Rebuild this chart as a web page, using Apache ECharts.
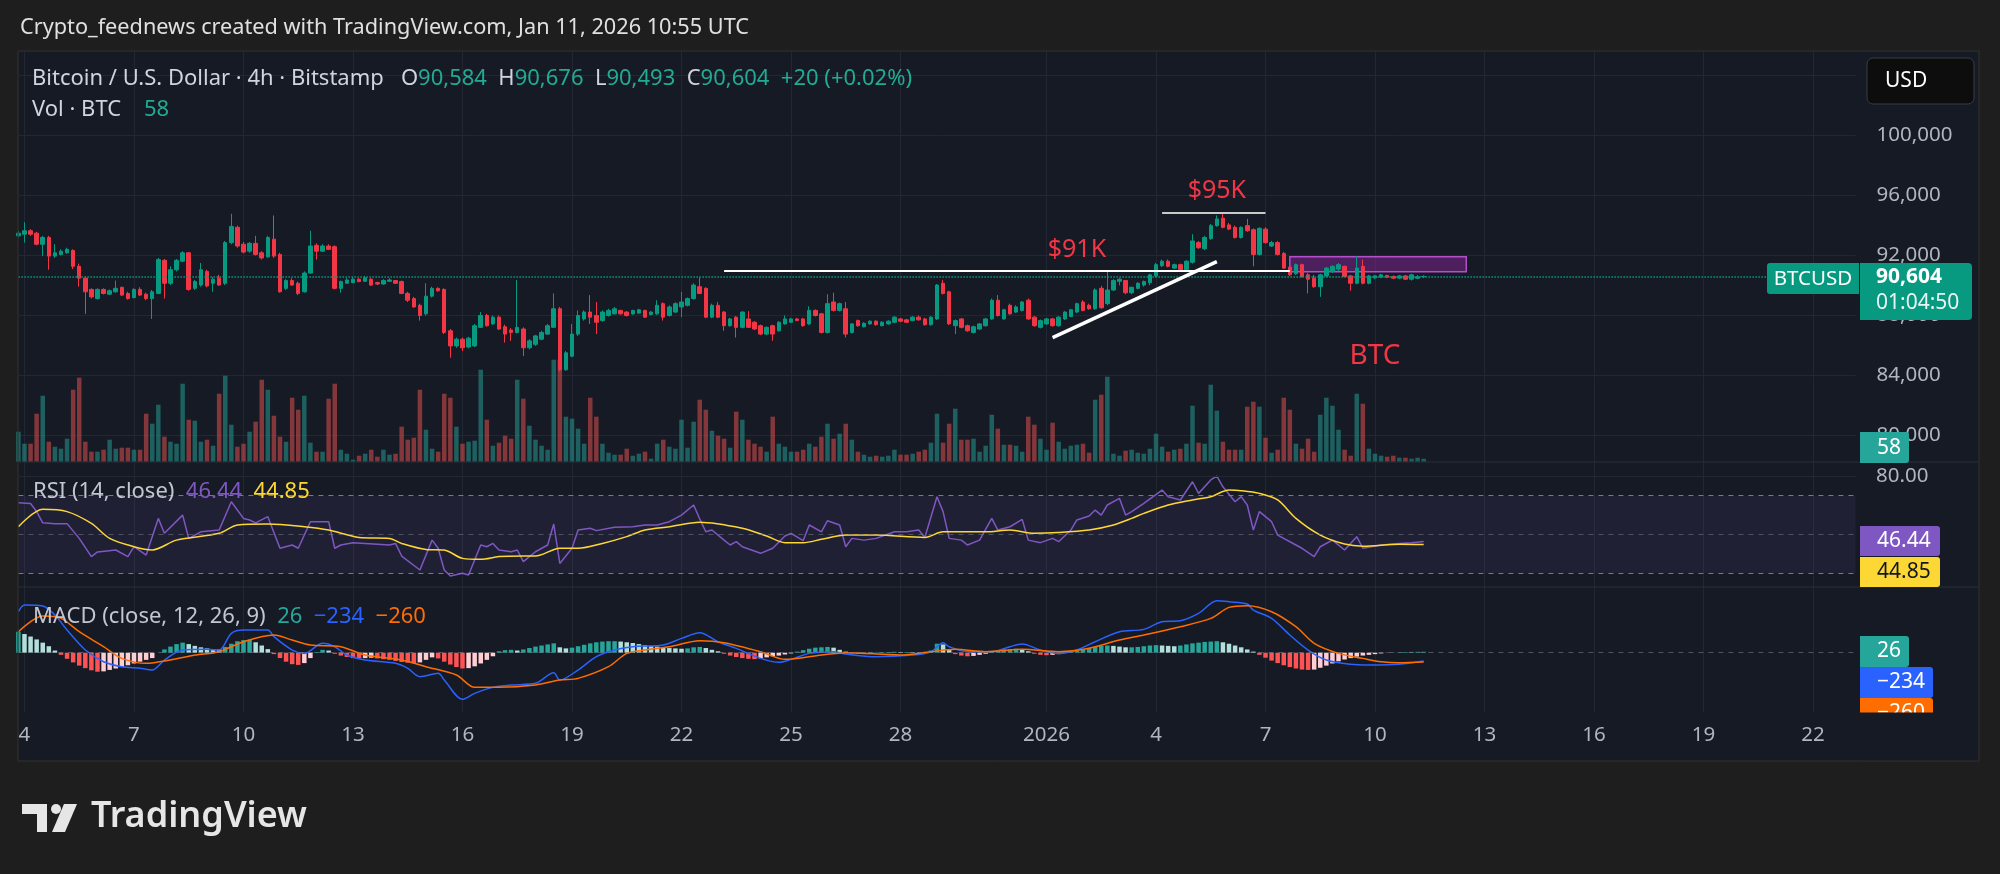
<!DOCTYPE html>
<html><head><meta charset="utf-8">
<script src="https://cdn.jsdelivr.net/npm/echarts@6/dist/echarts.min.js"></script>
<style>html,body{margin:0;padding:0;background:#1e1e1e;}#c{width:2000px;height:874px;}</style>
</head><body><div id="c"></div>
<script>
// ---------- time axis ----------
const START_UTC = Date.UTC(2025, 11, 3, 20);   // first 4h slot shown
const STEP_MS = 4 * 3600 * 1000;
const SLOT_COUNT = 303;
function fmtSlot(d){const p=n=>String(n).padStart(2,'0');return d.getUTCFullYear()+'-'+p(d.getUTCMonth()+1)+'-'+p(d.getUTCDate())+' '+p(d.getUTCHours())+':00';}
const categories = [];
for (let i = 0; i < SLOT_COUNT; i++) categories.push(fmtSlot(new Date(START_UTC + i * STEP_MS)));

const tickDates  = ['2025-12-04','2025-12-07','2025-12-10','2025-12-13','2025-12-16','2025-12-19','2025-12-22','2025-12-25','2025-12-28','2026-01-01','2026-01-04','2026-01-07','2026-01-10','2026-01-13','2026-01-16','2026-01-19','2026-01-22'];
const tickLabels = ['4','7','10','13','16','19','22','25','28','2026','4','7','10','13','16','19','22'];
const priceTicks = [80000, 84000, 88000, 92000, 96000, 100000, 104000];

// ---------- BTC/USD 4h candles [open, close, low, high], from 2025-12-03 20:00 ----------
const ohlc = [
[93310,93490,93200,93650],[93420,93650,92860,94220],[93650,93420,93310,93760],[93490,92750,92680,93580],[92750,93200,91960,93310],
[93200,91960,91050,93310],[91960,92180,91840,92750],[92070,92290,92000,92410],[92180,92410,92110,92520],[92340,91280,91100,92410],
[91280,90490,89920,91460],[90490,89580,88110,90600],[89740,89240,89130,89810],[89130,89740,89060,89810],[89740,89470,89400,89810],
[89420,89650,89360,89740],[89580,89810,89520,90330],[89880,89360,89290,89920],[89470,89130,89060,89580],[89200,89740,89130,89810],
[89740,89360,89290,89880],[89420,89130,89020,89520],[89130,89580,87770,89700],[89470,91730,89420,91840],[91680,90150,89130,91770],
[90150,91050,90030,91280],[91050,91680,90940,91770],[91620,92180,91550,92290],[92180,89740,89650,92230],[89810,90260,89700,90370],
[90030,91050,89920,91500],[90940,89970,89880,91050],[90150,90420,89580,90550],[90490,90030,89970,90710],[90150,92860,90030,92970],
[92860,93940,92750,94780],[93880,92630,92520,93990],[92750,92230,92140,92900],[92290,92810,92180,92900],[92810,92070,92000,93310],
[92180,91840,91730,92290],[91910,93200,91840,93310],[93090,91960,91840,94670],[92070,89580,89520,92180],[89810,90330,89700,90420],
[90330,90030,89970,90490],[90150,89470,89360,90260],[89580,90830,89520,90940],[90830,92630,90780,93650],[92680,92290,91730,92810],
[92290,92630,92230,92750],[92630,92410,92360,92750],[92590,89810,89740,92680],[89810,90260,89520,90330],[90150,90370,90100,90490],
[90190,90420,90150,90550],[90420,90260,90220,90490],[90280,90510,90240,90640],[90420,90030,89970,90490],[90190,90100,90030,90260],
[90100,90330,90060,90420],[90280,90370,90240,90490],[90330,90150,90100,90370],[90260,89470,89420,90330],[89470,89020,88900,89580],
[89130,88570,88520,89240],[88680,88000,87660,88790],[88110,89290,88000,90150],[89290,89810,89200,89920],[89810,89650,89580,89880],
[89740,86870,86760,89810],[86980,85970,85180,87100],[85970,86420,85850,86530],[86420,85850,85630,86530],[85900,86490,85810,86580],
[85970,87320,85900,87440],[87210,88000,87160,88230],[88000,87320,87250,88110],[87440,87890,87390,88000],[87890,87100,87030,88000],
[87250,86760,86190,87390],[87030,86870,86310,87160],[86870,87210,86800,90370],[87100,85850,85290,87210],[85850,86310,85740,86420],
[86080,86640,85970,86710],[86420,86870,86350,86980],[86760,87320,86710,87440],[87210,88450,87160,89470],[88450,84380,84270,88570],
[84380,85510,84320,85630],[85290,86760,85220,87440],[86760,88000,86640,88340],[87770,88230,87660,88340],[88230,87890,87440,89360],
[88000,87550,86760,88900],[87660,88230,87590,88340],[88000,88340,87930,88450],[88110,88450,88070,88570],[88340,88110,88050,88380],
[88230,88000,87930,88290],[88110,88340,88050,88380],[88160,88380,88110,88450],[88340,87890,87840,88380],[88070,88230,88000,88290],
[88110,88680,88050,89020],[88790,87890,87660,88880],[88000,88570,87930,88680],[88230,88790,88160,88880],[88570,88900,87890,89580],
[88680,89130,88610,89200],[89130,90030,89060,90150],[89920,89470,89420,90550],[89810,87890,87820,89880],[87890,88680,87820,88790],
[88680,87890,87820,88900],[88230,87320,86980,88290],[87320,87770,87250,87840],[87890,87210,86530,87960],[87210,88230,87140,88290],
[87770,87210,87160,88290],[87550,87100,87030,87620],[87320,86760,86690,87390],[86760,87210,86690,87280],[87320,86760,86310,87390],
[86980,87550,86920,87620],[87440,87770,87390,88000],[87550,87770,87500,87840],[87770,87660,87620,87840],[87770,87320,87250,87840],
[87440,88340,87370,88610],[88340,88000,87930,88410],[88110,86870,86800,88180],[86870,88790,86800,89420],[88900,88340,88270,89520],
[88340,88790,88270,88860],[88450,86760,86530,88900],[86870,87440,86800,87500],[87660,87320,87250,87730],[87250,87480,87210,87550],
[87440,87620,87390,87680],[87620,87390,87320,87680],[87320,87550,87280,87620],[87440,87620,87390,87680],[87550,87890,87480,87960],
[87770,87620,87550,87840],[87710,87550,87500,87770],[87660,87890,87620,87960],[87890,87710,87660,88000],[87770,87390,87320,87840],
[87390,87890,87320,87960],[87770,90030,87710,90100],[90150,89470,89400,90370],[89580,87440,87370,89650],[87320,87660,86760,87730],
[87770,87210,87140,87840],[87320,86980,86920,87390],[86870,87250,86800,87320],[87100,87440,87030,87500],[87320,87770,87250,87840],
[87770,89020,87710,89130],[89020,88000,87930,89360],[87770,88380,87710,88450],[88680,88110,88050,88790],[88230,88570,88160,88680],
[88340,88900,88270,88970],[89020,87770,87710,89130],[87890,87320,87250,87960],[87210,87660,87140,87730],[87440,87770,87370,87840],
[87770,87320,87250,87840],[87320,87890,87250,87960],[87770,88230,87710,88290],[87930,88380,87890,88450],[88230,88790,88160,88860],
[88900,88340,88270,89020],[88680,88450,88380,88790],[88450,89700,88380,89810],[89810,88520,88450,89970],[88790,89700,88680,90940],
[89700,90330,89630,90420],[90280,90420,90010,90490],[90330,89520,89420,90370],[89520,89880,89420,89920],[89810,90150,89740,90220],
[90030,90260,89920,90330],[90190,90710,90030,90780],[90640,91390,90550,91500],[91320,91620,91230,91730],[91620,91280,91210,91730],
[91160,91390,91100,91460],[91390,91050,90980,91460],[91050,91620,90980,91680],[91550,92970,91460,93420],[92860,92520,92450,92970],
[92450,93200,92360,93310],[93130,93990,93040,94100],[93990,94440,93920,94670],[94490,93880,93810,94780],[94040,93760,93690,94170],
[93880,93200,93130,93990],[93200,93880,93130,93940],[93990,93650,93580,94440],[93720,92070,91280,93810],[92070,93810,92000,93880],
[93760,92860,92790,93880],[92630,92860,92560,92970],[92860,92070,92000,92970],[92140,91160,91100,92230],[91230,90710,90640,91320],
[90780,91390,90710,91460],[91390,90600,90530,91460],[90710,90420,89470,90830],[90490,89920,89850,90710],[89920,90710,89240,90780],
[90640,91160,90550,91230],[90940,91280,90830,91340],[91100,91390,90940,91500],[91280,90600,90550,91320],[90640,90150,89650,90710],
[90150,91160,90080,91960],[91280,90150,90080,91730],[90150,90640,90080,90710],[90510,90640,90420,90710],[90550,90710,90490,90780],
[90670,90550,90490,90710],[90600,90490,90420,90670],[90490,90640,90420,90710],[90640,90420,90370,90710],[90420,90710,90330,90780],
[90480,90584,90420,90700],[90584,90604,90493,90676]
];

// ---------- volume (BTC), same slots ----------
const volume = [
600,360,360,960,1320,400,300,260,460,1440,1680,
400,200,200,240,440,260,280,280,240,240,
960,760,1140,500,400,360,1560,840,820,400,
440,320,1360,1720,740,300,360,600,800,1640,
1440,920,500,400,1280,1040,1320,380,200,200,
1260,1560,240,160,40,120,160,240,100,240,
140,160,700,440,480,1440,640,260,200,1360,
1280,700,360,400,420,1840,840,320,380,520,
460,1640,1260,720,440,320,240,2040,2040,900,
860,660,360,1280,900,360,180,140,140,260,
120,160,200,60,360,440,300,260,840,280,
800,1240,1040,620,520,460,280,1000,840,440,
360,300,200,900,360,300,200,200,240,360,
300,500,760,460,560,760,440,200,140,100,
120,100,120,240,140,140,160,200,240,380,
960,380,760,1060,440,440,460,200,320,940,
660,340,340,320,200,900,740,460,240,780,
400,260,320,340,360,180,1240,1340,1700,160,
120,220,240,180,160,260,560,300,200,240,
260,360,1120,380,360,1540,1020,400,240,240,
240,1100,1200,1100,480,180,240,1280,1040,360,
260,460,200,940,1280,1120,640,240,120,1360,
1160,260,160,120,100,120,80,80,60,80,
58
];

// ---------- RSI(14) read points [candle index from 2025-12-04 00:00, value] ----------
const rsiPoints = [[-1,66.4],[1,66],[2,61.8],[3,56],[5,55.6],[7,55.6],[9,48],[11,38.6],[12,41],[15,42],[17,38.6],[18,43.7],[20,39.4],[22,58.3],[23,50.6],[26,60],[27,48],[29,51.4],[32,52.3],[34,66.9],[36,58.3],[37,57.5],[38,56],[40,59.2],[42,42.9],[44,44.6],[45,42.9],[47,56.6],[50,56.6],[51,42.9],[52,44.6],[54,45.8],[56,45.4],[60,44.6],[61,45.4],[62,38.9],[65,31.7],[67,47.1],[68,42.9],[69,31.7],[70,28.6],[72,30],[73,29.1],[75,44.6],[76,43.7],[77,45.4],[78,42],[80,41.1],[81,42],[82,36],[84,41.1],[86,44.6],[87,55.4],[88,35.1],[90,42.9],[91,52.3],[93,53.2],[94,52],[97,53.7],[100,54],[102,54.9],[104,54.9],[106,56.6],[108,60],[110,65.2],[111,58],[112,51.4],[113,52.3],[115,47.1],[116,44.6],[117,46.3],[118,43.7],[121,40.3],[123,42.9],[125,49.2],[126,50.6],[128,46.8],[129,54.9],[131,51.4],[132,57.1],[134,54.9],[135,43.7],[136,48],[138,47.1],[140,48],[143,51.4],[145,51.4],[147,52.3],[148,48.5],[150,69.5],[151,61.8],[152,48],[154,47.1],[155,44.6],[157,47.1],[159,58.3],[160,52.3],[162,54],[164,57.8],[165,47.1],[167,45.8],[169,48],[170,46.3],[172,52.3],[173,57.5],[175,59.5],[176,62.6],[177,60],[178,65.2],[180,68.6],[181,60],[182,61.8],[184,66],[187,72.9],[188,69.5],[190,67.8],[192,77.2],[193,71.2],[195,78.1],[196,80.1],[197,74.6],[199,66.9],[200,69.5],[201,65.2],[202,52.3],[203,61.8],[205,56.6],[206,49.7],[209,44.6],[210,42.9],[212,38.6],[213,43.7],[215,47.1],[217,42],[219,48.9],[220,42.9],[223,44.6],[226,45.4],[228,45.8],[230,46.44]];
const rsiMaPoints = [[-1,54],[3,63],[7,61.8],[11,55.7],[14,48],[18,43.7],[21,42],[25,47.1],[32,50.6],[35,54.9],[40,55.4],[46,54],[50,52.3],[55,48.5],[60,48],[62,45.4],[66,42.3],[69,42],[72,37.7],[75,37.2],[78,38.6],[82,38.9],[84,38.9],[88,42.9],[91,42.9],[95,45.4],[99,48.9],[102,52.3],[106,54],[111,56.3],[118,53.2],[122,49.2],[125,45.8],[128,45.8],[131,47.5],[135,49.7],[140,49.7],[148,48.5],[151,51.4],[158,51.4],[162,52.3],[166,50.6],[170,51],[175,52.3],[179,54.9],[182,58.3],[184,60.9],[188,65.2],[192,67.8],[195,69.5],[198,72.9],[200,72.6],[203,71.2],[206,67.8],[209,58.3],[213,49.7],[217,45.1],[220,44],[226,45],[230,44.85]];

// ---------- MACD(12,26,9) read points ----------
const macdPoints = [[-1,1142],[0,1328],[3,1300],[5,1049],[7,631],[10,74],[13,-251],[16,-390],[19,-436],[21,-483],[23,-204],[26,74],[30,93],[32,74],[34,539],[36,631],[40,631],[41,446],[44,74],[46,-19],[49,260],[51,167],[53,-65],[56,-204],[61,-297],[63,-436],[65,-669],[68,-576],[69,-761],[72,-1300],[74,-1133],[77,-966],[80,-901],[84,-854],[87,-557],[88,-761],[91,-483],[94,-111],[97,74],[100,167],[105,214],[108,399],[111,557],[114,306],[117,121],[121,-158],[124,-269],[126,-186],[129,-19],[133,28],[135,-37],[140,-111],[146,-65],[149,28],[151,279],[152,167],[155,28],[159,28],[162,167],[164,241],[167,74],[170,-19],[173,74],[176,306],[180,585],[184,650],[187,864],[190,891],[193,1096],[196,1448],[198,1420],[201,1356],[202,1188],[205,956],[208,492],[211,74],[214,-204],[218,-325],[221,-344],[226,-325],[230,-234]];
const signalPoints = [[-1,585],[3,1021],[6,956],[9,585],[13,167],[16,-158],[20,-297],[24,-204],[28,-65],[32,28],[36,306],[41,492],[44,353],[47,214],[52,167],[56,-65],[62,-204],[66,-390],[71,-622],[74,-966],[78,-966],[84,-901],[88,-761],[91,-715],[96,-390],[99,-19],[102,74],[106,167],[111,334],[115,279],[121,28],[125,-186],[131,-65],[135,0],[144,-65],[149,28],[153,93],[158,28],[164,93],[170,28],[175,121],[180,353],[184,492],[190,724],[195,956],[198,1263],[201,1309],[205,1142],[209,724],[212,260],[216,-19],[220,-158],[223,-251],[226,-279],[230,-260]];
const histogram = [
585,520,450,370,280,180,
60,-60,-170,-270,-360,-430,-490,-530,
-520,-480,-440,-400,-350,-300,-250,-200,-150,
0,90,170,240,280,
240,190,150,120,100,90,
160,250,320,350,360,
290,200,100,
-40,-150,-250,-320,-340,-290,
-150,20,80,60,
-30,-80,-120,-150,-160,-150,-140,-160,-180,-200,-230,-260,-280,-300,-270,-200,-130,-160,
-250,-330,-400,-440,-430,-380,-300,-200,-100,
40,70,80,60,
90,130,170,200,230,260,
150,120,140,180,
220,260,290,310,320,320,310,290,270,
240,210,190,170,150,130,120,110,
120,150,
160,130,80,40,
-30,-80,-120,-150,-170,-180,-160,-130,-100,-80,-50,-20,
30,70,110,140,150,160,140,80,30,
-20,-30,-25,-20,10,15,20,25,20,20,15,10,5,
60,250,230,100,
-40,-80,-100,-90,-60,-30,
40,70,90,100,110,90,40,
-30,-60,-70,-60,-40,-10,
30,60,100,130,160,190,200,190,170,150,150,160,180,200,210,200,190,180,200,230,260,280,300,310,320,290,250,200,150,90,30,
-60,-140,-220,-290,-350,-400,-440,-470,-480,-470,-420,-360,-300,-240,-190,-150,-110,-80,-60,-40,
-20,-5,5,12,18,22,24,26
];

// ---------- drawn annotations (time slot, price) ----------
const lastPrice = 90604;
const level91k = {from:'2025-12-23 04:00', to:'2026-01-07 16:00', price:91000};
const level95k = {from:'2026-01-04 04:00', to:'2026-01-07 00:00', price:94880};
const trendLine = {from:['2026-01-01 04:00',86520], to:['2026-01-05 16:00',91590]};
const zoneBox = {from:'2026-01-07 16:00', to:'2026-01-12 12:00', low:90920, high:91920};
const textNotes = [{t:'$91K',slot:'2026-01-01 20:00',price:92367},{t:'$95K',slot:'2026-01-05 16:00',price:96300},{t:'BTC',slot:'2026-01-10 00:00',price:85300}];

// ---------- build ----------
const UP='#089981', DOWN='#f23645';
const FONT = "'Noto Sans', Roboto, sans-serif";
const tickMap = {}; tickDates.forEach((d,i)=>{tickMap[d+' 00:00']=tickLabels[i];});
function sparse(pts){const a=new Array(SLOT_COUNT).fill('-');pts.forEach(([k,v])=>{a[k+1]=v;});return a;}
const volData = volume.map((v,i)=>({value:v,itemStyle:{color: ohlc[i][1]>=ohlc[i][0]?'rgba(38,166,154,0.5)':'rgba(239,83,80,0.5)'}}));
const histData = histogram.map((v,i)=>{const p=i>0?histogram[i-1]:v;let c;if(v>=0)c=v>=p?'#26a69a':'#b2dfdb';else c=v<p?'#ff5252':'#ffcdd2';return {value:v,itemStyle:{color:c}};});

const L = 18.4, R = 144.4;
const hidX = (gi)=>({type:'category',gridIndex:gi,data:categories,boundaryGap:false,axisLine:{show:false},axisTick:{show:false},axisLabel:{show:false},splitLine:{show:false}});
const hidY = (gi,min,max,extra)=>Object.assign({type:'value',gridIndex:gi,min,max,axisLine:{show:false},axisTick:{show:false},axisLabel:{show:false},splitLine:{show:false}},extra||{});

const chart = echarts.init(document.getElementById('c'), null, {renderer:'canvas'});
const panelBg = '#161a25', lineC = '#2a2e39';
const F = (s,w)=>(w?w+' ':'')+s+'px '+FONT;
const option = {
  backgroundColor:'#1e1e1e',
  animation:false,
  grid:[
    {left:L,right:R,top:51,bottom:162},          // 0: background / time scale
    {left:L,right:R,top:75.5,height:360},        // 1: price
    {left:L,right:R,top:341.7,height:120},       // 2: volume
    {left:L,right:R,top:462,height:125},         // 3: RSI
    {left:L,right:R,top:587,height:125}          // 4: MACD
  ],
  xAxis:[
    {type:'category',gridIndex:0,data:categories,boundaryGap:false,axisLine:{show:false},axisTick:{show:false},
     axisLabel:{interval:(i,v)=>!!tickMap[v],formatter:v=>tickMap[v]||'',color:'#b2b5be',fontSize:20.5,fontFamily:FONT,margin:13,showMinLabel:true,showMaxLabel:true,hideOverlap:false},
     splitLine:{show:true,interval:(i,v)=>!!tickMap[v],lineStyle:{color:'#232733',width:1}}},
    hidX(1),hidX(2),hidX(3),hidX(4)
  ],
  yAxis:[
    hidY(0,0,1),
    {type:'value',gridIndex:1,position:'right',min:priceTicks[0],max:priceTicks[priceTicks.length-1],interval:4000,
     axisLine:{show:false},axisTick:{show:false},
     axisLabel:{color:'#b2b5be',fontSize:20.5,fontFamily:FONT,margin:21,showMaxLabel:false,formatter:v=>v.toLocaleString('en-US')},
     splitLine:{show:true,lineStyle:{color:'#232733',width:1}}},
    hidY(2,0,2400),
    hidY(3,22.94,87.37),
    hidY(4,-1652,1830)
  ],
  series:[
    {type:'line',xAxisIndex:0,yAxisIndex:0,data:[],silent:true},
    {type:'bar',name:'vol',xAxisIndex:2,yAxisIndex:2,data:volData,barWidth:4.5,silent:true,z:1},
    {type:'candlestick',xAxisIndex:1,yAxisIndex:1,data:ohlc,barWidth:4,clip:false,silent:true,z:3,
     itemStyle:{color:UP,color0:DOWN,borderColor:UP,borderColor0:DOWN,borderWidth:1},
     markLine:{silent:true,symbol:['none','none'],label:{show:false},animation:false,data:[
       [{coord:[categories[0],lastPrice],lineStyle:{color:UP,type:'dotted',width:1.5}},{coord:[categories[SLOT_COUNT-1],lastPrice]}],
       [{coord:[level91k.from,level91k.price],lineStyle:{color:'#ffffff',type:'solid',width:2}},{coord:[level91k.to,level91k.price]}],
       [{coord:[level95k.from,level95k.price],lineStyle:{color:'#c9c9c9',type:'solid',width:2}},{coord:[level95k.to,level95k.price]}],
       [{coord:trendLine.from,lineStyle:{color:'#ffffff',type:'solid',width:3.5}},{coord:trendLine.to}]
     ]},
     markArea:{silent:true,data:[[{coord:[zoneBox.from,zoneBox.high],itemStyle:{color:'rgba(156,39,176,0.42)',borderColor:'#b24fc9',borderWidth:1.5}},{coord:[zoneBox.to,zoneBox.low]}]]},
     markPoint:{silent:true,symbol:'rect',symbolSize:[1,1],itemStyle:{color:'rgba(0,0,0,0)'},
       data:textNotes.map(n=>({name:n.t,coord:[n.slot,n.price],label:{show:true,position:'inside',formatter:n.t,color:DOWN,fontSize:n.t==='BTC'?28:25,fontFamily:FONT}}))}
    },
    {type:'line',name:'RSI',xAxisIndex:3,yAxisIndex:3,data:sparse(rsiPoints),connectNulls:true,symbol:'none',lineStyle:{color:'#7e57c2',width:1.5},silent:true,z:3,
     markArea:{silent:true,data:[[{yAxis:70,itemStyle:{color:'rgba(126,87,194,0.1)'}},{yAxis:30}]]},
     markLine:{silent:true,symbol:['none','none'],label:{show:false},data:[
       {yAxis:80,lineStyle:{color:'#232733',type:'solid',width:1}},
       {yAxis:70,lineStyle:{color:'#787b86',type:[5,5],width:1}},
       {yAxis:50,lineStyle:{color:'rgba(120,123,134,0.55)',type:[5,5],width:1}},
       {yAxis:30,lineStyle:{color:'#787b86',type:[5,5],width:1}}]}},
    {type:'line',name:'RSI MA',xAxisIndex:3,yAxisIndex:3,data:sparse(rsiMaPoints),connectNulls:true,smooth:0.3,symbol:'none',lineStyle:{color:'#fdd835',width:1.5},silent:true,z:4},
    {type:'bar',name:'hist',xAxisIndex:4,yAxisIndex:4,data:histData,barWidth:4.5,silent:true,z:2,
     markLine:{silent:true,symbol:['none','none'],label:{show:false},data:[{yAxis:0,lineStyle:{color:'rgba(120,123,134,0.6)',type:[5,5],width:1}}]}},
    {type:'line',name:'MACD',xAxisIndex:4,yAxisIndex:4,data:sparse(macdPoints),connectNulls:true,smooth:0.3,symbol:'none',lineStyle:{color:'#2962ff',width:1.5},silent:true,z:3},
    {type:'line',name:'Signal',xAxisIndex:4,yAxisIndex:4,data:sparse(signalPoints),connectNulls:true,smooth:0.3,symbol:'none',lineStyle:{color:'#ff6d00',width:1.5},silent:true,z:4}
  ],
  graphic:[
    {type:'rect',z:-5,shape:{x:18,y:51,width:1961,height:710},style:{fill:panelBg,stroke:'#2b2b2b',lineWidth:1}},
    {type:'text',z:100,style:{x:20,y:28,text:'Crypto_feednews created with TradingView.com, Jan 11, 2026 10:55 UTC',fill:'#e0e0e0',font:F(21.7),verticalAlign:'middle'}},
    {type:'text',z:100,style:{x:32,y:79,verticalAlign:'middle',
      text:'{a|Bitcoin / U.S. Dollar · 4h · Bitstamp   }{a|O}{v|90,584}{a|  H}{v|90,676}{a|  L}{v|90,493}{a|  C}{v|90,604}{v|  +20 (+0.02%)}',
      rich:{a:{fill:'#d1d4dc',font:F(22)},v:{fill:'#22ab94',font:F(22)}}}},
    {type:'text',z:100,style:{x:32,y:110,verticalAlign:'middle',text:'{a|Vol · BTC    }{v|58}',rich:{a:{fill:'#d1d4dc',font:F(22)},v:{fill:'#22ab94',font:F(22)}}}},
    {type:'text',z:100,style:{x:33,y:492,verticalAlign:'middle',text:'{a|RSI (14, close)  }{p|46.44  }{y|44.85}',rich:{a:{fill:'#c3c6ce',font:F(22)},p:{fill:'#7e57c2',font:F(22)},y:{fill:'#fdd835',font:F(22)}}}},
    {type:'text',z:100,style:{x:33,y:617,verticalAlign:'middle',text:'{a|MACD (close, 12, 26, 9)  }{g|26  }{b|−234  }{o|−260}',rich:{a:{fill:'#c3c6ce',font:F(22)},g:{fill:'#26a69a',font:F(22)},b:{fill:'#2962ff',font:F(22)},o:{fill:'#ff6d00',font:F(22)}}}},
    {type:'line',z:90,shape:{x1:18,y1:462,x2:1979,y2:462},style:{stroke:lineC,lineWidth:1}},
    {type:'line',z:90,shape:{x1:18,y1:587,x2:1979,y2:587},style:{stroke:lineC,lineWidth:1}},
    {type:'text',z:100,style:{x:1876,y:476,text:'80.00',fill:'#b2b5be',font:F(20.5),verticalAlign:'middle'}},
    // USD button
    {type:'rect',z:100,shape:{x:1867,y:58,width:107,height:46,r:6},style:{fill:'#0d0d0d',stroke:'#3a3d45',lineWidth:1}},
    {type:'text',z:101,style:{x:1885,y:81,text:'USD',fill:'#ffffff',font:F(21),verticalAlign:'middle'}},
    // last price tags
    {type:'rect',z:100,shape:{x:1767,y:263,width:92,height:31,r:[3,0,0,3]},style:{fill:UP}},
    {type:'text',z:101,style:{x:1813,y:279,text:'BTCUSD',fill:'#ffffff',font:F(20.5),align:'center',verticalAlign:'middle'}},
    {type:'rect',z:100,shape:{x:1860,y:263,width:112,height:57,r:[0,4,4,0]},style:{fill:UP}},
    {type:'text',z:101,style:{x:1876,y:277,text:'90,604',fill:'#ffffff',font:F(21,'bold'),verticalAlign:'middle'}},
    {type:'text',z:101,style:{x:1876,y:303,text:'01:04:50',fill:'#e8f5f2',font:F(21),verticalAlign:'middle'}},
    {type:'rect',z:100,shape:{x:1860,y:432,width:49,height:31,r:[0,3,3,0]},style:{fill:'#26a69a'}},
    {type:'text',z:101,style:{x:1877,y:448,text:'58',fill:'#ffffff',font:F(21),verticalAlign:'middle'}},
    {type:'rect',z:100,shape:{x:1860,y:526,width:80,height:30,r:[0,3,3,0]},style:{fill:'#7e57c2'}},
    {type:'text',z:101,style:{x:1877,y:541,text:'46.44',fill:'#ffffff',font:F(21),verticalAlign:'middle'}},
    {type:'rect',z:100,shape:{x:1860,y:557,width:80,height:30,r:[0,3,3,0]},style:{fill:'#fdd835'}},
    {type:'text',z:101,style:{x:1877,y:572,text:'44.85',fill:'#131722',font:F(21),verticalAlign:'middle'}},
    {type:'rect',z:100,shape:{x:1860,y:636,width:49,height:31,r:[0,3,3,0]},style:{fill:'#26a69a'}},
    {type:'text',z:101,style:{x:1877,y:651.5,text:'26',fill:'#ffffff',font:F(21),verticalAlign:'middle'}},
    {type:'rect',z:100,shape:{x:1860,y:698,width:73,height:30,r:[0,3,3,0]},style:{fill:'#ff6d00'}},
    {type:'text',z:101,style:{x:1877,y:713,text:'−260',fill:'#ffffff',font:F(21),verticalAlign:'middle'}},
    {type:'rect',z:102,shape:{x:1858,y:712.5,width:120,height:48},style:{fill:panelBg}},
    {type:'rect',z:103,shape:{x:1860,y:667,width:73,height:31,r:[0,3,3,0]},style:{fill:'#2962ff'}},
    {type:'text',z:104,style:{x:1877,y:682.5,text:'−234',fill:'#ffffff',font:F(21),verticalAlign:'middle'}},
    {type:'rect',z:104,shape:{x:18,y:51,width:1961,height:710},style:{fill:'none',stroke:'#2b2b2b',lineWidth:1}},
    // TradingView logo
    {type:'polygon',z:100,shape:{points:[[22,804],[47,804],[47,832],[37,832],[37,814],[22,814]]},style:{fill:'#e6e6e6'}},
    {type:'circle',z:100,shape:{cx:56,cy:809,r:5},style:{fill:'#e6e6e6'}},
    {type:'polygon',z:100,shape:{points:[[64,804],[77,804],[65,832],[52,832]]},style:{fill:'#e6e6e6'}},
    {type:'text',z:100,style:{x:91,y:817,text:'TradingView',fill:'#e6e6e6',font:F(36,'600'),verticalAlign:'middle'}}
  ]
};
chart.setOption(option);
</script></body></html>
